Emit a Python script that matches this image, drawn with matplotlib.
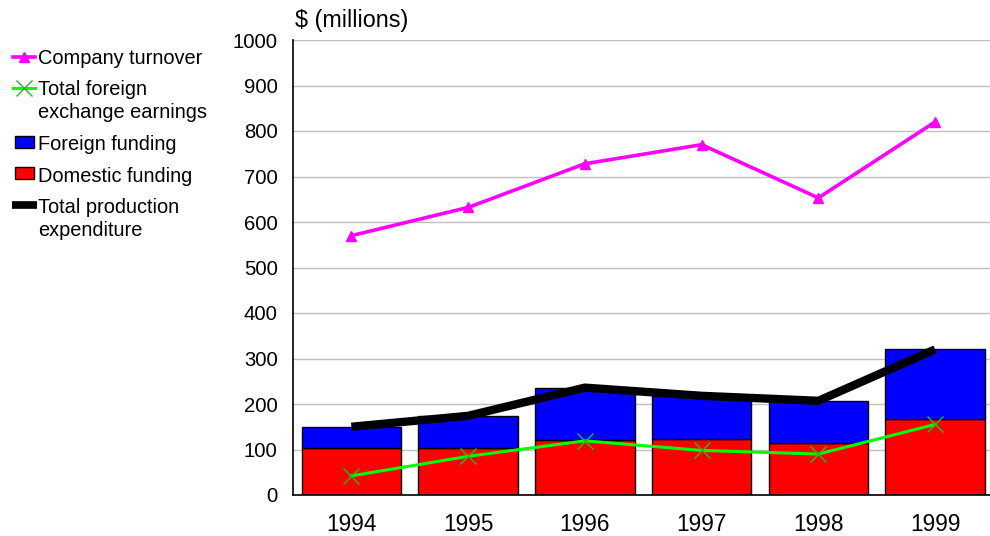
import matplotlib
matplotlib.use("Agg")
import matplotlib.pyplot as plt
from matplotlib.lines import Line2D
from matplotlib.patches import Rectangle

plt.rcParams["font.family"] = ["Liberation Sans", "DejaVu Sans"]
plt.rcParams["font.size"] = 14.4

years = ["1994", "1995", "1996", "1997", "1998", "1999"]
company_turnover = [570, 632, 728, 770, 653, 820]
fx_earnings = [42, 85, 119, 98, 90, 155]
domestic_funding = [104, 104, 120, 124, 115, 168]
foreign_funding = [46, 70, 116, 94, 92, 152]
production_expenditure = [150, 174, 236, 218, 207, 320]
y_ticks = [0, 100, 200, 300, 400, 500, 600, 700, 800, 900, 1000]

W, H = 990, 536
fig = plt.figure(figsize=(W / 100, H / 100), dpi=100)
ax = fig.add_axes([293 / W, 1 - 495 / H, 1 - 293 / W, (495 - 40) / H])

x = list(range(len(years)))
bw = 0.853
ax.bar(x, domestic_funding, width=bw, color="#ff0000", edgecolor="black",
       linewidth=1.0, zorder=2)
ax.bar(x, foreign_funding, width=bw, bottom=domestic_funding, color="#0000ff",
       edgecolor="black", linewidth=1.0, zorder=2)
ax.plot(x, production_expenditure, color="black", linewidth=6, zorder=3,
        solid_capstyle="butt")
ax.plot(x, fx_earnings, color="#00ff00", linewidth=2.2, marker="x",
        markersize=11, markeredgecolor="#22bb22", markeredgewidth=1.0, zorder=4)
ax.plot(x, company_turnover, color="#ff00ff", linewidth=2.6, marker="^",
        markersize=7.5, zorder=5)

ax.set_xlim(-0.5, 5.47)
ax.set_ylim(0, 1000)
ax.set_yticks(y_ticks)
ax.set_xticks(x)
ax.set_xticklabels(years, fontsize=16.3)
ax.tick_params(axis="y", length=0, pad=11, labelsize=14.6)
ax.tick_params(axis="x", length=0, pad=13)
ax.yaxis.grid(True, color="#c0c0c0", linewidth=1.0, zorder=0)
ax.set_axisbelow(True)
for side in ("top", "right"):
    ax.spines[side].set_visible(False)
for side in ("left", "bottom"):
    ax.spines[side].set_linewidth(1.2)
    ax.spines[side].set_zorder(6)

fig.text(295 / W, 1 - 21 / H, "$ (millions)", ha="left", va="center", fontsize=16.8)

# legend, drawn in figure pixel coordinates
def fy(py):
    return 1 - py / H

def fx(px):
    return px / W

tx = fx(38)
fig.add_artist(Line2D([fx(13), fx(35)], [fy(57), fy(57)], color="#ff00ff", linewidth=2.6))
fig.add_artist(Line2D([fx(24)], [fy(57)], color="#ff00ff", marker="^", markersize=7.5))
fig.text(tx, fy(58), "Company turnover", ha="left", va="center")

fig.add_artist(Line2D([fx(13), fx(35)], [fy(88), fy(88)], color="#00ff00", linewidth=2.2))
fig.add_artist(Line2D([fx(24)], [fy(88)], color="#00ff00", marker="x", markersize=11,
                      markeredgecolor="#22bb22", markeredgewidth=1.0))
fig.text(tx, fy(101), "Total foreign\nexchange earnings", ha="left", va="center",
         linespacing=1.22)

fig.add_artist(Rectangle((fx(15), fy(148)), fx(19), 12 / H, facecolor="#0000ff",
                         edgecolor="black", linewidth=1.0, transform=fig.transFigure))
fig.text(tx, fy(145), "Foreign funding", ha="left", va="center")

fig.add_artist(Rectangle((fx(15), fy(179)), fx(19), 12 / H, facecolor="#ff0000",
                         edgecolor="black", linewidth=1.0, transform=fig.transFigure))
fig.text(tx, fy(177), "Domestic funding", ha="left", va="center")

fig.add_artist(Line2D([fx(12), fx(37)], [fy(205), fy(205)], color="black", linewidth=5.5,
                      solid_capstyle="butt"))
fig.text(tx, fy(219), "Total production\nexpenditure", ha="left", va="center",
         linespacing=1.22)

fig.savefig("out.png", dpi=100)
